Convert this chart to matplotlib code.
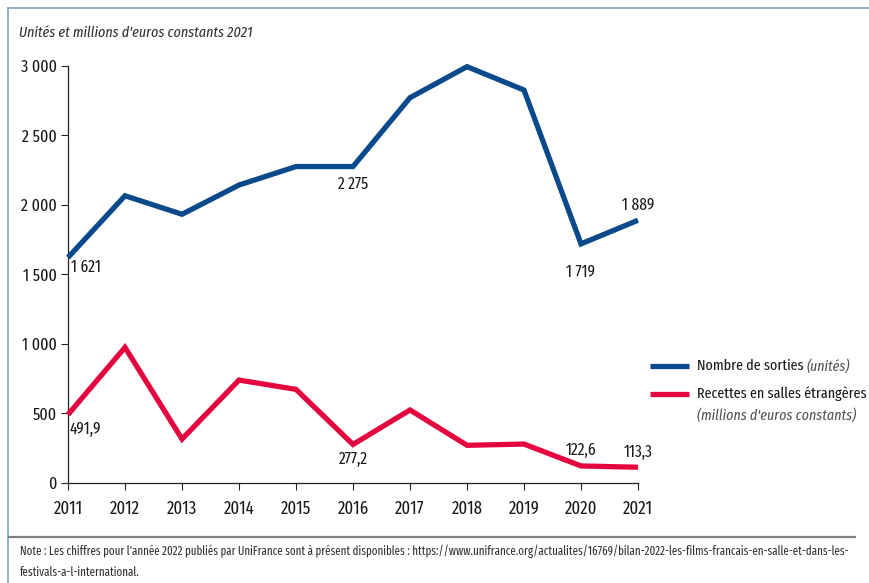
import matplotlib
matplotlib.use("Agg")
import matplotlib.pyplot as plt
from matplotlib.lines import Line2D
from matplotlib import font_manager as fm

_names = set(f.name for f in fm.fontManager.ttflist)
_cands = ['Fira Sans Extra Condensed', 'Fira Sans Condensed', 'Roboto Condensed', 'PT Sans Narrow',
          'Archivo Narrow', 'Liberation Sans Narrow']
FONT = next((c for c in _cands if c in _names), 'DejaVu Sans')
plt.rcParams['font.family'] = [FONT, 'DejaVu Sans']

years = [2011, 2012, 2013, 2014, 2015, 2016, 2017, 2018, 2019, 2020, 2021]
sorties = [1621, 2065, 1932, 2142, 2275, 2275, 2770, 2993, 2825, 1719, 1889]
recettes = [491.9, 975, 316, 740, 673, 277.2, 525, 271, 280, 122.6, 113.3]
yticks = [0, 500, 1000, 1500, 2000, 2500, 3000]
ytick_labels = ["0", "500", "1 000", "1 500", "2 000", "2 500", "3 000"]

BLUE = "#0a4a8c"
RED = "#e4053f"
TXT = "#1a1a1a"

fig = plt.figure(figsize=(8.69, 5.83), dpi=100)
ax = fig.add_axes([68/869, 1-483/583, 570/869, (483-65.7)/583])

ax.plot(years, sorties, color=BLUE, lw=3.8, solid_joinstyle='miter', solid_capstyle='butt',
        clip_on=False, zorder=3)
ax.plot(years, recettes, color=RED, lw=3.8, solid_joinstyle='miter', solid_capstyle='butt',
        clip_on=False, zorder=3)

ax.set_xlim(2011, 2021)
ax.set_ylim(0, 3000)
ax.set_xticks(years)
ax.set_xticklabels([str(y) for y in years], fontsize=13, color=TXT)
ax.set_yticks(yticks)
ax.set_yticklabels(ytick_labels, fontsize=12.5, color=TXT)
ax.tick_params(axis='x', length=5, width=0.8, pad=7, color='#222222')
ax.tick_params(axis='y', length=5, width=0.8, pad=3, color='#222222')
for s in ['top', 'right']:
    ax.spines[s].set_visible(False)
for s in ['left', 'bottom']:
    ax.spines[s].set_linewidth(0.9)
    ax.spines[s].set_color('#222222')

def lab(x, y, text, dx, dy, ha, va):
    ax.annotate(text, (x, y), xytext=(dx, dy), textcoords='offset pixels',
                ha=ha, va=va, fontsize=12, color=TXT, zorder=4)

# sorties labels
lab(years[0], sorties[0], "1 621", 3, -2, 'left', 'top')
lab(years[5], sorties[5], "2 275", 0, -10, 'center', 'top')
lab(years[9], sorties[9], "1 719", 0, -20, 'center', 'top')
lab(years[10], sorties[10], "1 889", 0, 7, 'center', 'bottom')
# recettes labels
lab(years[0], recettes[0], "491,9", 2, -7, 'left', 'top')
lab(years[5], recettes[5], "277,2", 0, -7, 'center', 'top')
lab(years[9], recettes[9], "122,6", 0, 8, 'center', 'bottom')
lab(years[10], recettes[10], "113,3", 0, 7, 'center', 'bottom')

# title
fig.text(19/869, 1-33/583, "Unités et millions d'euros constants 2021", fontsize=11,
         style='italic', color='#333333', ha='left', va='center')

# legend (manual)
def fx(px):
    return px/869
def fy(py):
    return 1-py/583
fig.add_artist(Line2D([fx(650), fx(689)], [fy(366), fy(366)], color=BLUE, lw=3.8, solid_capstyle='butt'))
fig.add_artist(Line2D([fx(650), fx(689)], [fy(394), fy(394)], color=RED, lw=3.8, solid_capstyle='butt'))
t1 = fig.text(fx(697), fy(366), "Nombre de sorties", fontsize=11, color=TXT, ha='left', va='center')
fig.canvas.draw()
r = fig.canvas.get_renderer()
bb = t1.get_window_extent(r)
fig.text((bb.x1 + 3)/869, fy(366), "(unités)", fontsize=11, style='italic', color='#555555',
         ha='left', va='center')
fig.text(fx(697), fy(394), "Recettes en salles étrangères", fontsize=11, color=TXT, ha='left', va='center')
fig.text(fx(697), fy(415), "(millions d'euros constants)", fontsize=11, style='italic', color='#555555',
         ha='left', va='center')

# frame border (top and left)
border = '#7f9fc8'
fig.add_artist(Line2D([fx(8), fx(8)], [0, fy(8)], color=border, lw=1.2))
fig.add_artist(Line2D([fx(8), 1], [fy(8), fy(8)], color=border, lw=1.2))

# separator and note
fig.add_artist(Line2D([fx(9), fx(855)], [fy(537), fy(537)], color='#808080', lw=1.6))
fig.text(fx(20), fy(551), "Note : Les chiffres pour l'année 2022 publiés par UniFrance sont à présent disponibles : "
         "https://www.unifrance.org/actualites/16769/bilan-2022-les-films-francais-en-salle-et-dans-les-",
         fontsize=8.6, color='#333333', ha='left', va='center')
fig.text(fx(20), fy(572), "festivals-a-l-international.", fontsize=8.6, color='#333333', ha='left', va='center')

fig.savefig("out.png", dpi=100)
